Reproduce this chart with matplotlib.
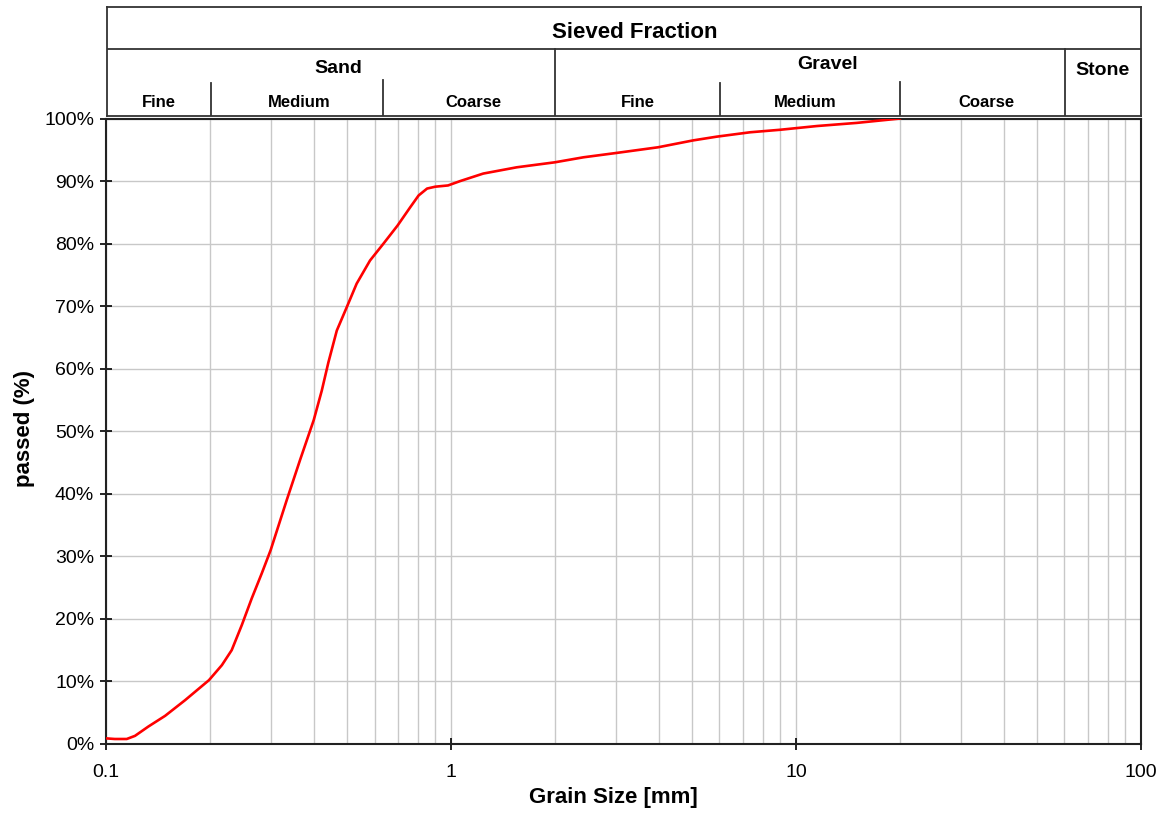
import matplotlib
matplotlib.use('Agg')
import matplotlib.pyplot as plt
from matplotlib.ticker import FixedLocator, FuncFormatter, NullFormatter, LogLocator

plt.rcParams['font.family'] = ['Liberation Sans', 'DejaVu Sans']

# grain size distribution (mm, % passed)
grain_mm = [0.1, 0.106, 0.1148, 0.1213, 0.1327, 0.1483, 0.1694, 0.1987, 0.2166,
            0.2313, 0.2474, 0.2645, 0.2828, 0.3, 0.334, 0.365, 0.4, 0.422,
            0.441, 0.4665, 0.5, 0.5326, 0.5823, 0.637, 0.7, 0.7612,
            0.8054, 0.852, 0.9, 0.98, 1.063, 1.24, 1.55, 2.0, 2.42, 3.02,
            3.98, 5.03, 5.89, 7.36, 8.99, 11.5, 15, 20]
passed = [0.9, 0.8, 0.8, 1.3, 2.8, 4.5, 7.0, 10.2, 12.6,
          15.0, 19.0, 23.3, 27.3, 31.0, 39.0, 45.4, 51.8, 56.5,
          61.0, 66.1, 70.0, 73.6, 77.3, 80.0, 82.9, 85.8,
          87.7, 88.8, 89.1, 89.3, 90.0, 91.2, 92.2, 93.0, 93.8, 94.5,
          95.4, 96.5, 97.1, 97.8, 98.2, 98.8, 99.3, 100.0]

# fraction classes (boundaries in mm)
main_classes = ['Sand', 'Gravel', 'Stone']
main_bounds = [2, 60]
sub_classes = ['Fine', 'Medium', 'Coarse', 'Fine', 'Medium', 'Coarse']
sub_bounds = [0.2, 0.63, 6, 20]
x_ticks = [0.1, 1, 10, 100]
y_ticks = list(range(0, 101, 10))

fig = plt.figure(figsize=(11.68, 8.14), dpi=100)
ax = fig.add_axes([0.0908, 0.0860, 0.8861, 0.7684])

ax.plot(grain_mm, passed, color='#ff0000', lw=1.9, zorder=3,
        solid_joinstyle='round')

ax.set_xscale('log')
ax.set_xlim(0.1, 100)
ax.set_ylim(0, 100)
ax.xaxis.set_major_locator(FixedLocator(x_ticks))
ax.xaxis.set_minor_locator(LogLocator(base=10, subs=range(2, 10)))
ax.xaxis.set_major_formatter(FuncFormatter(lambda v, p: f'{v:g}'))
ax.xaxis.set_minor_formatter(NullFormatter())
ax.set_yticks(y_ticks)
ax.yaxis.set_major_formatter(FuncFormatter(lambda v, p: f'{v:.0f}%'))

ax.grid(which='both', axis='x', color='#c8c8c8', lw=1)
ax.grid(which='major', axis='y', color='#c8c8c8', lw=1)
ax.set_axisbelow(True)
ax.tick_params(which='major', direction='inout', length=9, width=1.2,
               labelsize=14, pad=4)
ax.tick_params(axis='x', which='minor', length=0)
ax.tick_params(axis='x', which='major', pad=10)
for s in ax.spines.values():
    s.set_linewidth(1.5)
    s.set_color('#222222')

ax.set_xlabel('Grain Size [mm]', fontsize=16, fontweight='bold')
ax.set_ylabel('passed (%)', fontsize=16, fontweight='bold')
ax.xaxis.set_label_coords(0.49, -0.068)
ax.yaxis.set_label_coords(-0.069, 0.505)

# header table with fraction names
hx = fig.add_axes([0.0916, 0.8575, 0.8853, 0.1339])
hx.set_xscale('log')
hx.set_xlim(0.1, 100)
hx.set_ylim(0, 1)
hx.tick_params(which='both', bottom=False, left=False,
               labelbottom=False, labelleft=False)
for s in hx.spines.values():
    s.set_linewidth(1.3)
    s.set_color('#333333')

lc = '#333333'
hx.axhline(0.615, color=lc, lw=1.3)
for b in main_bounds:
    hx.plot([b, b], [0, 0.615], color=lc, lw=1.3)
sub_tops = [0.303, 0.33, 0.303, 0.315]
for b, t in zip(sub_bounds, sub_tops):
    hx.plot([b, b], [0, t], color=lc, lw=1.3)

hx.text(3.39, 0.762, 'Sieved Fraction', ha='center', va='center',
        fontsize=16, fontweight='bold')
main_x = [0.47, 12.3, 77.5]
main_y = [0.432, 0.468, 0.413]
for name, x, y in zip(main_classes, main_x, main_y):
    hx.text(x, y, name, ha='center', va='center', fontsize=14, fontweight='bold')
sub_x = [0.1414, 0.36, 1.16, 3.46, 10.6, 35.5]
for name, x in zip(sub_classes, sub_x):
    hx.text(x, 0.12, name, ha='center', va='center', fontsize=12, fontweight='bold')

fig.savefig('out.png', dpi=100)
